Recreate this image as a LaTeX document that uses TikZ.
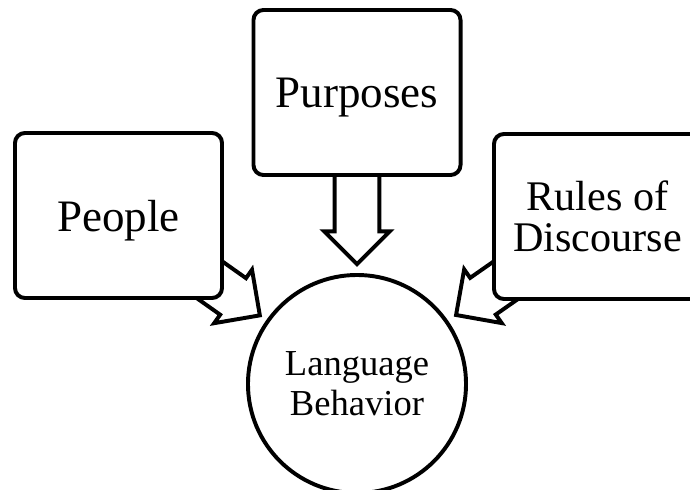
\documentclass[tikz,border=0pt]{standalone}
\usepackage{fontspec}
\setmainfont{Liberation Serif}
\usetikzlibrary{shapes.arrows}
\pgfdeclarelayer{back}
\pgfsetlayers{back,main}

\begin{document}
\begin{tikzpicture}[x=0.025cm,y=-0.025cm,
  box/.style={draw,fill=white,line width=2.8pt,rounded corners=0.25cm,minimum width=5.175cm,minimum height=4.125cm,align=center,text depth=0pt,font=\fontsize{32}{29}\selectfont},
  blockarrow/.style={draw,fill=white,line width=2.8pt,single arrow,sloped,allow upside down,anchor=tip,inner xsep=0pt,inner ysep=0.51cm,single arrow head extend=0.26cm,minimum height=1.8cm}]
\useasboundingbox (0,0) rectangle (690,489);
\node[box] (people) at (118.5,215.5) {People};
\node[box] (purposes) at (357,92.5) {Purposes};
\node[box,font=\fontsize{30}{29}\selectfont] (rules) at (597.5,216.5) {Rules of\\Discourse};
\node[draw,fill=white,circle,line width=2.8pt,minimum size=5.45cm,inner sep=0pt,align=center,font=\fontsize{26}{28.5}\selectfont] (lang) at (357,384) {Language\\Behavior};

% block arrows sit behind the boxes
\begin{pgfonlayer}{back}
\path (purposes) -- (lang) node[blockarrow,pos=0.936,minimum height=2.45cm] (purparrow) {};
\path (people) -- (lang) node[blockarrow,pos=0.9] (peoparrow) {};
\path (rules) -- (lang) node[blockarrow,pos=0.87] (rulearrow) {};
\end{pgfonlayer}
\end{tikzpicture}
\end{document}
